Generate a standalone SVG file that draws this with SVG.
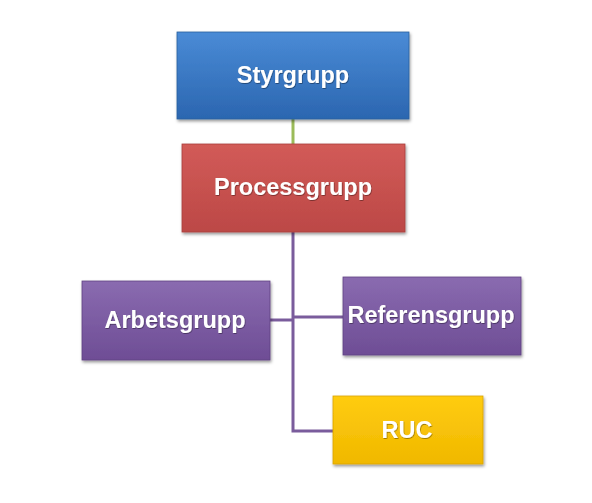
<svg xmlns="http://www.w3.org/2000/svg" width="592" height="503" viewBox="0 0 592 503">
<defs>
<linearGradient id="gBlue" x1="0" y1="0" x2="0" y2="1"><stop offset="0" stop-color="#4a8bd6"/><stop offset="1" stop-color="#2b66b0"/></linearGradient>
<linearGradient id="gRed" x1="0" y1="0" x2="0" y2="1"><stop offset="0" stop-color="#d25b58"/><stop offset="1" stop-color="#bc4846"/></linearGradient>
<linearGradient id="gPurple" x1="0" y1="0" x2="0" y2="1"><stop offset="0" stop-color="#8a6bb0"/><stop offset="1" stop-color="#6e4d95"/></linearGradient>
<linearGradient id="gYellow" x1="0" y1="0" x2="0" y2="1"><stop offset="0" stop-color="#ffcc10"/><stop offset="1" stop-color="#f0b800"/></linearGradient>
<filter id="sh" x="-10%" y="-10%" width="125%" height="135%"><feDropShadow dx="1" dy="2" stdDeviation="1.5" flood-color="#000" flood-opacity="0.4"/></filter>
<filter id="tsh" x="-10%" y="-20%" width="120%" height="150%"><feDropShadow dx="0.6" dy="0.8" stdDeviation="0.6" flood-color="#000" flood-opacity="0.45"/></filter>
</defs>
<style>
.lbl{font-family:"Liberation Sans",Arial,sans-serif;font-weight:bold;font-size:23.5px;fill:#fff;text-anchor:middle;filter:url(#tsh)}
.box{filter:url(#sh)}
.conn{fill:none;stroke-width:3}
</style>
<rect width="592" height="503" fill="#fff"/>
<g id="connectors">
<line class="conn" x1="293" y1="119" x2="293" y2="144" stroke="#9bbb59"/>
<polyline class="conn" points="293,232 293,431 333,431" stroke="#7a5c9c"/>
<line class="conn" x1="270" y1="320" x2="293" y2="320" stroke="#7a5c9c"/>
<line class="conn" x1="293" y1="317" x2="343" y2="317" stroke="#7a5c9c"/>
</g>
<g id="styrgrupp">
<rect class="box" x="177" y="32" width="232" height="87" fill="url(#gBlue)" stroke="#2a5f9e" stroke-width="0.8"/>
<text class="lbl" x="293" y="83">Styrgrupp</text>
</g>
<g id="processgrupp">
<rect class="box" x="182" y="144" width="223" height="88" fill="url(#gRed)" stroke="#a8403e" stroke-width="0.8"/>
<text class="lbl" x="293" y="195">Processgrupp</text>
</g>
<g id="arbetsgrupp">
<rect class="box" x="82" y="281" width="188" height="79" fill="url(#gPurple)" stroke="#5f4383" stroke-width="0.8"/>
<text class="lbl" x="175" y="328">Arbetsgrupp</text>
</g>
<g id="referensgrupp">
<rect class="box" x="343" y="277" width="178" height="78" fill="url(#gPurple)" stroke="#5f4383" stroke-width="0.8"/>
<text class="lbl" x="431" y="323">Referensgrupp</text>
</g>
<g id="ruc">
<rect class="box" x="333" y="396" width="150" height="68" fill="url(#gYellow)" stroke="#d9a400" stroke-width="0.8"/>
<text class="lbl" x="407" y="438">RUC</text>
</g>
</svg>
